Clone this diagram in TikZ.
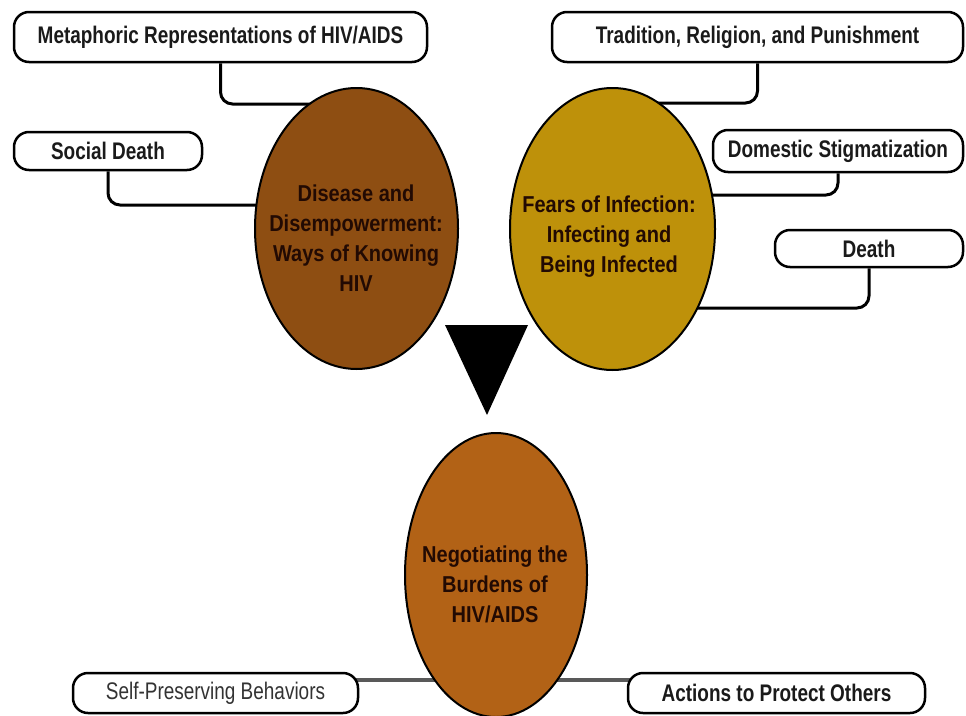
\documentclass[tikz,border=0pt]{standalone}
\usepackage{fontspec}
\setmainfont{Liberation Sans}
\newfontfamily\boxfont[FakeStretch=0.79]{Liberation Sans}
\newfontfamily\ellfont[FakeStretch=0.87]{Liberation Sans}
\usetikzlibrary{shapes.geometric}
\pgfdeclarelayer{bg}
\pgfsetlayers{bg,main}
\definecolor{ebrown}{HTML}{8E4E12}
\definecolor{egold}{HTML}{BE910A}
\definecolor{eorange}{HTML}{B26216}
\definecolor{etext}{HTML}{220A03}
\definecolor{btext}{HTML}{1A1A1A}
\tikzset{
  cbox/.style={draw=black, line width=2.5pt, fill=white, rounded corners=15pt,
    inner sep=0pt, text=btext, font=\boxfont\bfseries\fontsize{24}{28}\selectfont},
  cboxlight/.style={cbox, font=\boxfont\fontsize{24}{28}\selectfont, text=black!80},
  oval/.style={ellipse, draw=black, line width=2pt, inner sep=0pt},
  ovaltext/.style={align=center, inner sep=0pt, text=etext,
    font=\ellfont\bfseries\fontsize{23}{30}\selectfont},
  conn/.style={draw=black, line width=3pt, rounded corners=12pt},
  bconn/.style={draw=black!65, line width=3.5pt},
}
\begin{document}
\begin{tikzpicture}[x=1pt,y=-1pt]
\useasboundingbox (0,0) rectangle (966,715);

% boxes
\node[cbox, minimum width=413pt, minimum height=50pt] (meta) at (220.5,37) {Metaphoric Representations of HIV/AIDS};
\node[cbox, minimum width=188pt, minimum height=38pt] (social) at (108,151) {Social Death};
\node[cbox, minimum width=411pt, minimum height=50pt] (trad) at (757.5,37) {Tradition, Religion, and Punishment};
\node[cbox, minimum width=250pt, minimum height=42pt] (dom) at (838,151) {Domestic Stigmatization};
\node[cbox, minimum width=188pt, minimum height=37pt] (death) at (869,248.5) {Death};
\node[cboxlight, minimum width=285pt, minimum height=40pt] (self) at (215.5,693) {Self-Preserving Behaviors};
\node[cbox, minimum width=297pt, minimum height=40pt] (act) at (776.5,693) {Actions to Protect Others};

% ellipses
\node[oval, fill=ebrown, minimum width=203pt, minimum height=281pt] (dis) at (356.5,228.5) {};
\node[oval, fill=egold, minimum width=205pt, minimum height=282pt] (fear) at (612.5,229) {};
\node[oval, fill=eorange, minimum width=182pt, minimum height=284pt] (neg) at (496,575) {};

\node[ovaltext] (distext) at (356,238) {Disease and\\Disempowerment:\\Ways of Knowing\\HIV};
\node[ovaltext] (feartext) at (609,237) {Fears of Infection:\\Infecting and\\Being Infected};
\node[ovaltext] (negtext) at (495,584) {Negotiating the\\Burdens of\\HIV/AIDS};

% connector end points (hidden behind ellipses)
\coordinate (cm) at (356,104);
\coordinate (cs) at (356,205);
\coordinate (ct) at (612,103);
\coordinate (cd) at (612,195);
\coordinate (ce) at (612,308);
\coordinate (cb) at (496,680);

\begin{pgfonlayer}{bg}
  \draw[conn] (meta.south) |- (cm);
  \draw[conn] (social.south) |- (cs);
  \draw[conn] (trad.south) |- (ct);
  \draw[conn] (dom.south) |- (cd);
  \draw[conn] (death.south) |- (ce);
  \draw[bconn] (self.center |- cb) -- (cb) -- (act.center |- cb);
\end{pgfonlayer}

% down arrow
\fill[black] (445,325) -- (528,325) -- (487,415) -- cycle;
\end{tikzpicture}
\end{document}
